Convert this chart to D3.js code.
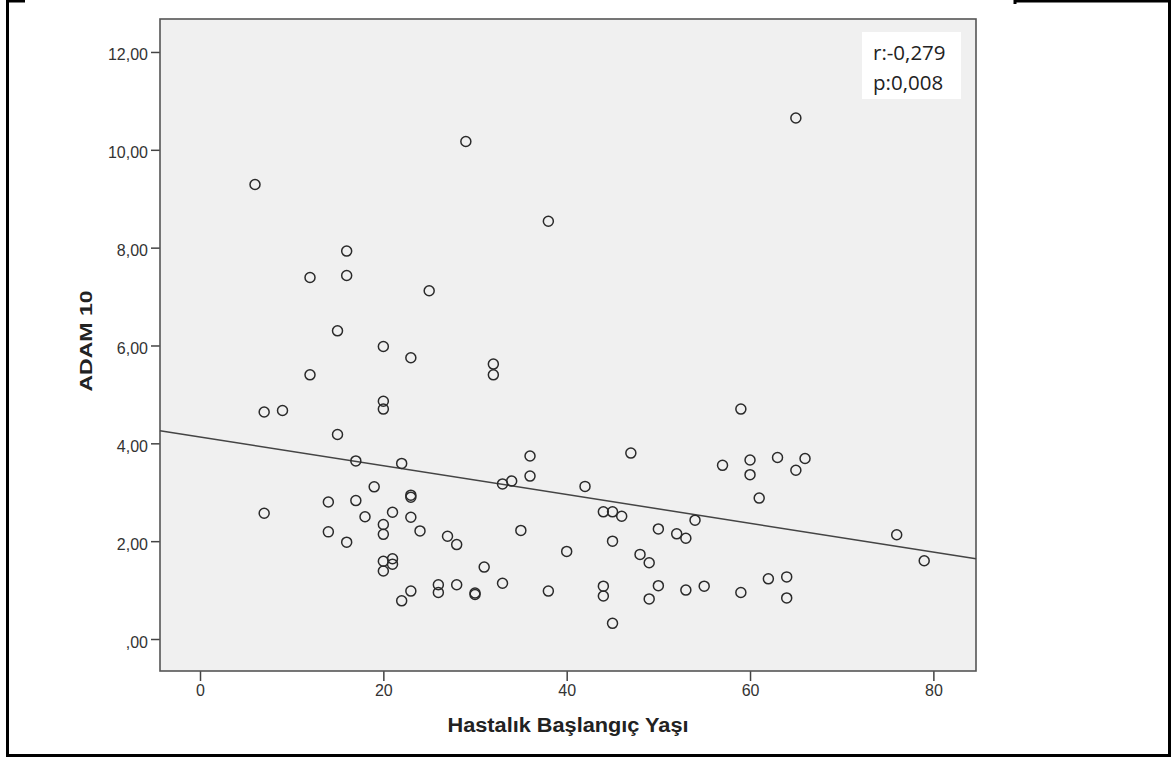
<!DOCTYPE html>
<html>
<head>
	<meta charset="utf-8">
	<script src="https://cdnjs.cloudflare.com/ajax/libs/d3/7.8.5/d3.min.js"></script>
	<style>
		body { margin: 0; background: #fff; }
		.tick text { font-family: "Liberation Sans", Arial, sans-serif; font-size: 16px; fill: #333; }
	</style>
</head>
<body>
	<svg id="chart" width="1172" height="758"></svg>

	<script>
		// Hastalık başlangıç yaşı (x) vs ADAM 10 (y)
		var ages = [
			6, 29, 65, 38, 16, 12, 16, 25, 15, 20,
			23, 32, 32, 12, 7, 9, 20, 20, 59, 15,
			17, 22, 36, 47, 57, 60, 60, 63, 66, 65,
			61, 36, 33, 34, 42, 19, 14, 17, 23, 23,
			7, 18, 21, 23, 20, 20, 14, 24, 27, 28,
			16, 20, 21, 21, 20, 26, 26, 23, 22, 28,
			30, 30, 31, 33, 38, 35, 40, 44, 45, 46,
			45, 50, 52, 53, 54, 48, 49, 44, 44, 50,
			49, 53, 55, 45, 59, 62, 64, 64, 76, 79
		];
		var adam10 = [
			9.29, 10.17, 10.65, 8.54, 7.93, 7.39, 7.43, 7.12, 6.30, 5.98,
			5.75, 5.62, 5.40, 5.40, 4.64, 4.67, 4.86, 4.70, 4.70, 4.18,
			3.64, 3.59, 3.74, 3.80, 3.55, 3.66, 3.36, 3.71, 3.69, 3.45,
			2.88, 3.33, 3.17, 3.23, 3.12, 3.11, 2.80, 2.83, 2.94, 2.90,
			2.57, 2.50, 2.59, 2.49, 2.34, 2.14, 2.19, 2.21, 2.10, 1.93,
			1.98, 1.59, 1.64, 1.53, 1.39, 1.11, 0.95, 0.98, 0.78, 1.11,
			0.94, 0.91, 1.47, 1.14, 0.98, 2.22, 1.79, 2.60, 2.60, 2.51,
			2.00, 2.25, 2.15, 2.06, 2.43, 1.73, 1.56, 1.08, 0.88, 1.09,
			0.82, 1.00, 1.08, 0.32, 0.95, 1.23, 1.27, 0.84, 2.13, 1.60
		];
		var xTicks = [0, 20, 40, 60, 80];
		var yTicks = [0, 2, 4, 6, 8, 10, 12];
		var yTickLabels = [",00", "2,00", "4,00", "6,00", "8,00", "10,00", "12,00"];
		var fitLine = { intercept: 4.13, slope: -0.0294 };
		var statLines = ["r:-0,279", "p:0,008"];

		var svg = d3.select("#chart");
		var plot = { left: 160, top: 19, right: 976, bottom: 671 };

		var x = d3.scaleLinear().domain([-4.364, 84.65]).range([plot.left, plot.right]);
		var y = d3.scaleLinear().domain([-0.654, 12.674]).range([plot.bottom, plot.top]);

		// outer frame (top edge is cut in the middle)
		svg.append("path")
			.attr("d", "M25,1 L7.5,1 L7.5,755.5 L1169.5,755.5 L1169.5,1 L1015,1 L1015,4")
			.attr("fill", "none")
			.attr("stroke", "#000")
			.attr("stroke-width", 3);

		svg.append("rect")
			.attr("x", plot.left)
			.attr("y", plot.top)
			.attr("width", plot.right - plot.left)
			.attr("height", plot.bottom - plot.top)
			.attr("fill", "#f0f0f0");

		var yAxis = svg.append("g")
			.attr("transform", "translate(" + plot.left + ",0)")
			.call(d3.axisLeft(y).tickValues(yTicks).tickSize(9).tickPadding(3)
				.tickFormat(function(d, i) { return yTickLabels[i]; }));
		yAxis.selectAll("text").attr("dy", "0.5em");

		var xAxis = svg.append("g")
			.attr("transform", "translate(0," + plot.bottom + ")")
			.call(d3.axisBottom(x).tickValues(xTicks).tickSize(10).tickPadding(4));

		svg.selectAll(".domain").remove();
		svg.selectAll(".tick line").attr("stroke", "#444").attr("stroke-width", 1.5);

		// plot border
		svg.append("rect")
			.attr("x", plot.left)
			.attr("y", plot.top)
			.attr("width", plot.right - plot.left)
			.attr("height", plot.bottom - plot.top)
			.attr("fill", "none")
			.attr("stroke", "#555")
			.attr("stroke-width", 1.6);

		// fit line
		var x0 = x.domain()[0], x1 = x.domain()[1];
		svg.append("line")
			.attr("x1", x(x0))
			.attr("y1", y(fitLine.intercept + fitLine.slope * x0))
			.attr("x2", x(x1))
			.attr("y2", y(fitLine.intercept + fitLine.slope * x1))
			.attr("stroke", "#444")
			.attr("stroke-width", 1.5);

		svg.append("g").selectAll("circle")
			.data(ages)
			.enter()
			.append("circle")
			.attr("cx", function(d) { return x(d); })
			.attr("cy", function(d, i) { return y(adam10[i]); })
			.attr("r", 5)
			.attr("fill", "none")
			.attr("stroke", "#2a2a2a")
			.attr("stroke-width", 1.5);

		// r / p box
		svg.append("rect")
			.attr("x", 862)
			.attr("y", 32)
			.attr("width", 99)
			.attr("height", 67)
			.attr("fill", "#fff");

		svg.append("g").selectAll("text")
			.data(statLines)
			.enter()
			.append("text")
			.attr("x", 873)
			.attr("y", function(d, i) { return 60 + i * 30; })
			.attr("font-family", "'Open Sans', sans-serif")
			.attr("font-size", 20.5)
			.attr("fill", "#222")
			.text(function(d) { return d; });

		svg.append("text")
			.attr("x", (plot.left + plot.right) / 2)
			.attr("y", 732)
			.attr("text-anchor", "middle")
			.attr("font-family", "'Liberation Sans', Arial, sans-serif")
			.attr("font-weight", "bold")
			.attr("font-size", 20)
			.attr("textLength", 241)
			.attr("lengthAdjust", "spacingAndGlyphs")
			.attr("fill", "#222")
			.text("Hastalık Başlangıç Yaşı");

		svg.append("text")
			.attr("transform", "translate(92," + ((plot.top + plot.bottom) / 2 - 4) + ") rotate(-90)")
			.attr("text-anchor", "middle")
			.attr("font-family", "'Liberation Sans', Arial, sans-serif")
			.attr("font-weight", "bold")
			.attr("font-size", 16)
			.attr("textLength", 101)
			.attr("lengthAdjust", "spacingAndGlyphs")
			.attr("fill", "#222")
			.text("ADAM 10");
	</script>
</body>
</html>
